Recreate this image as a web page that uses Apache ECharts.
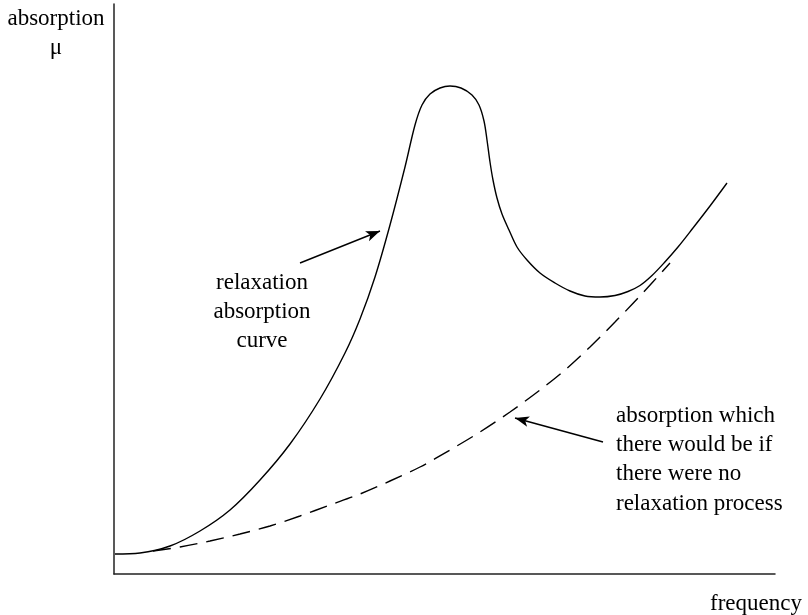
<!DOCTYPE html>
<html>
<head>
<meta charset="utf-8">
<script src="https://cdn.jsdelivr.net/npm/echarts@6/dist/echarts.min.js"></script>
<style>
  html, body { margin: 0; padding: 0; background: #fff; }
  #chart { width: 808px; height: 615px; }
</style>
</head>
<body>
<div id="chart"></div>
<script>
// relaxation absorption curve (frequency, absorption) - arbitrary units
const relaxX = [1, 26, 56, 86, 116, 146, 176, 206, 231, 246, 261, 276, 291, 301, 308, 316, 326, 336, 347, 358, 365, 370, 373, 376, 379, 383, 388, 395, 403, 413, 426, 441, 456, 471, 486, 501, 514, 526, 538, 550, 564, 579, 596, 613];
const relaxY = [20, 21, 28, 43, 64, 94, 130, 175, 221, 255, 297, 349, 407, 449, 469, 480, 486, 488, 486, 479, 469, 453, 434, 412, 394, 376, 360, 344, 327, 314, 301, 291, 283, 278, 277, 278.5, 282.5, 288.5, 298.5, 311, 327, 346, 368, 391];

// absorption there would be without the relaxation process
const baseX = [39, 66, 96, 126, 156, 186, 216, 246, 276, 306, 336, 366, 396, 426, 451, 476, 501, 526, 556];
const baseY = [23, 27, 33, 40, 48, 58, 69, 80, 93, 107, 124, 142, 162, 184, 204, 227, 252, 278, 311];

// annotation arrows: [fromX, fromY, toX, toY]
const arrowRelax = [186, 311, 266, 343];
const arrowBase = [489, 132, 401, 156];

const relaxData = relaxX.map((x, i) => [x, relaxY[i]]);
const baseData = baseX.map((x, i) => [x, baseY[i]]);

const chart = echarts.init(document.getElementById('chart'));
const serif = '"Liberation Serif", "DejaVu Serif", serif';

function arrowLine(a) {
    return [{ coord: [a[0], a[1]] }, { coord: [a[2], a[3]] }];
}

chart.setOption({
    animation: false,
    backgroundColor: '#fff',
    grid: { left: 114, top: 4, width: 661, height: 570 },
    xAxis: {
        type: 'value', min: 0, max: 661,
        axisLine: { show: true, onZero: false, lineStyle: { color: '#222', width: 1.5 } },
        axisTick: { show: false }, axisLabel: { show: false }, splitLine: { show: false }
    },
    yAxis: {
        type: 'value', min: 0, max: 570,
        axisLine: { show: true, onZero: false, lineStyle: { color: '#222', width: 1.5 } },
        axisTick: { show: false }, axisLabel: { show: false }, splitLine: { show: false }
    },
    series: [
        {
            type: 'line',
            data: relaxData,
            smooth: 0.33,
            symbol: 'none',
            lineStyle: { color: '#000', width: 1.4 },
            markLine: {
                silent: true,
                symbol: ['none', 'arrow'],
                symbolSize: [8, 14],
                label: { show: false },
                lineStyle: { color: '#000', width: 1.5, type: 'solid' },
                data: [arrowLine(arrowRelax), arrowLine(arrowBase)]
            }
        },
        {
            type: 'line',
            data: baseData,
            smooth: 0.33,
            symbol: 'none',
            lineStyle: { color: '#000', width: 1.4, type: [18, 9] }
        }
    ],
    graphic: [
        {
            type: 'text', left: 6, top: 4,
            style: { text: 'absorption\nμ', font: '23px ' + serif, fill: '#000', textAlign: 'center', lineHeight: 29, width: 100 }
        },
        {
            type: 'text', x: 262, y: 268,
            style: { text: 'relaxation\nabsorption\ncurve', font: '23px ' + serif, fill: '#000', textAlign: 'center', lineHeight: 29 }
        },
        {
            type: 'text', x: 616, y: 401,
            style: { text: 'absorption which\nthere would be if\nthere were no\nrelaxation process', font: '23px ' + serif, fill: '#000', textAlign: 'left', lineHeight: 29.3 }
        },
        {
            type: 'text', x: 802, y: 589,
            style: { text: 'frequency', font: '23px ' + serif, fill: '#000', textAlign: 'right', lineHeight: 29 }
        }
    ]
});
</script>
</body>
</html>
